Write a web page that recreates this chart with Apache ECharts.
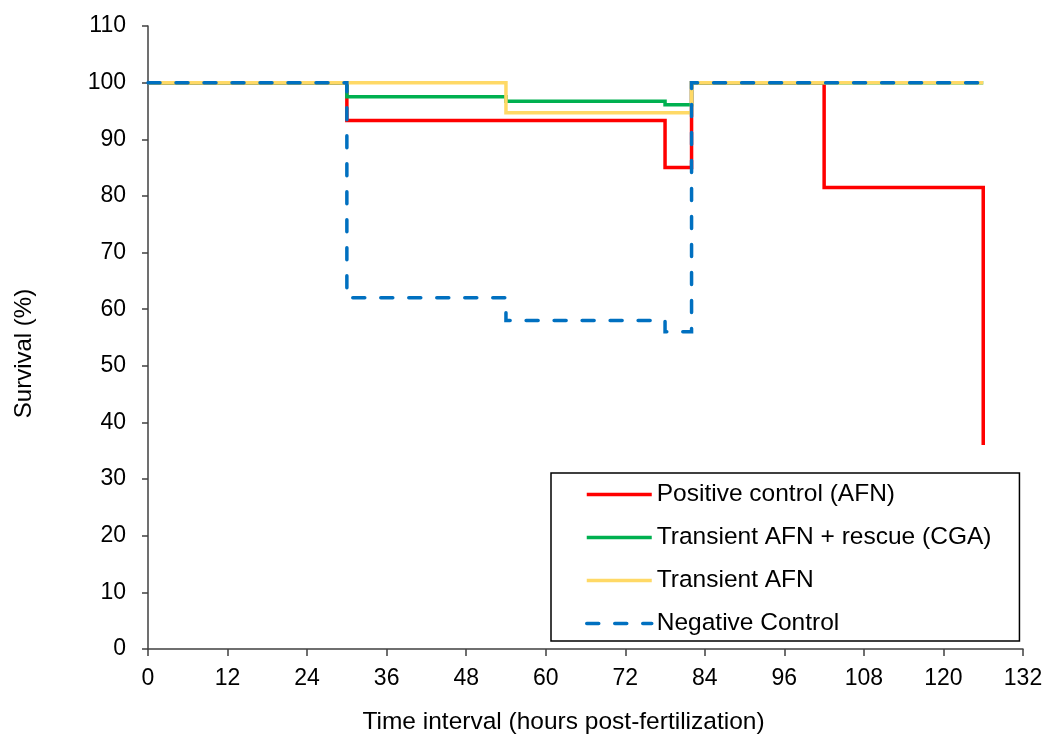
<!DOCTYPE html>
<html>
<head>
<meta charset="utf-8">
<script src="https://cdn.jsdelivr.net/npm/echarts@6/dist/echarts.min.js"></script>
<style>html,body{margin:0;padding:0;background:#fff}#c{width:1046px;height:737px}</style>
</head>
<body>
<div id="c"></div>
<script>
// Time (hours post-fertilization), survival (%)
const seriesNames = ['Positive control (AFN)', 'Transient AFN + rescue (CGA)', 'Transient AFN', 'Negative Control'];
const positiveTimes = [0, 30, 78, 82, 102, 126];
const positiveValues = [100, 93.3, 85, 100, 81.5, 36];
const rescueTimes = [0, 30, 54, 78, 82, 126];
const rescueValues = [100, 97.5, 96.7, 96.1, 100, 100];
const transientTimes = [0, 54, 82, 126];
const transientValues = [100, 94.7, 100, 100];
const negativeTimes = [0, 30, 54, 78, 82, 126];
const negativeValues = [100, 62, 58, 56, 100, 100];
const xTicks = [0, 12, 24, 36, 48, 60, 72, 84, 96, 108, 120, 132];
const yTicks = [0, 10, 20, 30, 40, 50, 60, 70, 80, 90, 100, 110];

const zip = (t, v) => t.map((x, i) => [x, v[i]]);
const font = 'Liberation Sans, Arial, sans-serif';
const colors = ['#FF0000', '#00B050', '#FFD966', '#0070C0'];
const axisColor = '#404040';

const chart = echarts.init(document.getElementById('c'));
const mk = (i, data, dashed) => ({
  name: seriesNames[i], type: 'line', step: 'end', data: data,
  symbol: 'none', showSymbol: false, color: colors[i],
  lineStyle: { color: colors[i], width: 3.5, type: dashed ? [12, 16] : 'solid', cap: dashed ? 'round' : 'butt', join: 'miter' },
  z: 2 + i, animation: false
});
chart.setOption({
  animation: false,
  grid: { left: 148, right: 23, top: 26, bottom: 88, containLabel: false, outerBoundsMode: 'none' },
  textStyle: { fontFamily: font },
  xAxis: {
    type: 'value', min: xTicks[0], max: xTicks[xTicks.length - 1], interval: 12,
    name: 'Time interval (hours post-fertilization)', nameLocation: 'middle', nameGap: 61,
    nameTextStyle: { fontFamily: font, fontSize: 24.5, color: '#000', padding: [0, 44, 0, 0] },
    axisLine: { show: true, lineStyle: { color: axisColor, width: 1.5 } },
    axisTick: { show: true, length: 7, lineStyle: { color: axisColor, width: 1.5 } },
    axisLabel: { fontFamily: font, fontSize: 23, color: '#000', margin: 18 },
    splitLine: { show: false }
  },
  yAxis: {
    type: 'value', min: yTicks[0], max: yTicks[yTicks.length - 1], interval: 10,
    name: 'Survival (%)', nameLocation: 'middle', nameGap: 112,
    nameTextStyle: { fontFamily: font, fontSize: 24, color: '#000', padding: [0, 32, 0, 0] },
    axisLine: { show: true, lineStyle: { color: axisColor, width: 1.5 } },
    axisTick: { show: true, length: 6, lineStyle: { color: axisColor, width: 1.5 } },
    axisLabel: { fontFamily: font, fontSize: 23, color: '#000', margin: 22 },
    splitLine: { show: false }
  },
  legend: {
    orient: 'vertical', left: 551, top: 473,
    data: seriesNames,
    itemWidth: 65, itemHeight: 14, itemGap: 18,
    padding: [9, 28, 5, 34],
    borderColor: '#000', borderWidth: 1.5,
    itemStyle: { opacity: 0 },
    lineStyle: { width: 3.5 },
    textStyle: { fontFamily: font, fontSize: 24.5, color: '#000', padding: [0, 0, 0, 0] }
  },
  series: [
    mk(0, zip(positiveTimes, positiveValues), false),
    mk(1, zip(rescueTimes, rescueValues), false),
    mk(2, zip(transientTimes, transientValues), false),
    mk(3, zip(negativeTimes, negativeValues), true)
  ]
});
</script>
</body>
</html>
